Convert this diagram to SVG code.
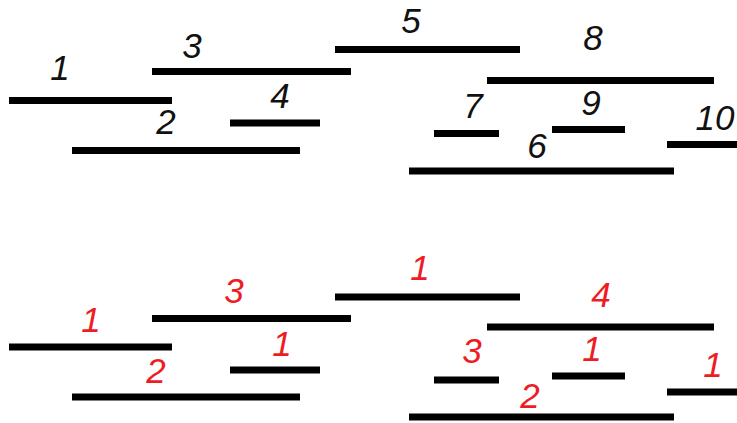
<svg xmlns="http://www.w3.org/2000/svg" width="737" height="423" viewBox="0 0 737 423">
<style>
.bar{stroke:#000;stroke-width:7;stroke-linecap:butt;fill:none}
.lb{font-family:"Liberation Sans",Arial,sans-serif;font-style:italic;font-size:35px;text-anchor:middle;fill:#111}
.rd{fill:#ee1c24}
</style>
<rect width="737" height="423" fill="#fff"/>
<g id="top">
<g id="t1"><line class="bar" x1="9" y1="100.5" x2="172" y2="100.5"/><text class="lb" x="60" y="80">1</text></g>
<g id="t2"><line class="bar" x1="72" y1="150.5" x2="300" y2="150.5"/><text class="lb" x="166" y="134">2</text></g>
<g id="t3"><line class="bar" x1="152" y1="71.5" x2="351" y2="71.5"/><text class="lb" x="192" y="58">3</text></g>
<g id="t4"><line class="bar" x1="230" y1="123" x2="320" y2="123"/><text class="lb" x="280" y="108">4</text></g>
<g id="t5"><line class="bar" x1="335" y1="49.5" x2="520" y2="49.5"/><text class="lb" x="411" y="33">5</text></g>
<g id="t6"><line class="bar" x1="409" y1="171" x2="674" y2="171"/><text class="lb" x="537" y="158">6</text></g>
<g id="t7"><line class="bar" x1="434" y1="133.5" x2="499" y2="133.5"/><text class="lb" x="473" y="118">7</text></g>
<g id="t8"><line class="bar" x1="487" y1="80.5" x2="714" y2="80.5"/><text class="lb" x="593" y="50">8</text></g>
<g id="t9"><line class="bar" x1="552" y1="129.5" x2="625" y2="129.5"/><text class="lb" x="591" y="115">9</text></g>
<g id="t10"><line class="bar" x1="667" y1="144.5" x2="737" y2="144.5"/><text class="lb" x="715" y="130">10</text></g>
</g>
<g id="bottom">
<g id="b1"><line class="bar" x1="9" y1="347" x2="172" y2="347"/><text class="lb rd" x="91" y="332">1</text></g>
<g id="b2"><line class="bar" x1="72" y1="397" x2="300" y2="397"/><text class="lb rd" x="156" y="383">2</text></g>
<g id="b3"><line class="bar" x1="152" y1="318.5" x2="351" y2="318.5"/><text class="lb rd" x="234" y="303">3</text></g>
<g id="b4"><line class="bar" x1="230" y1="370" x2="320" y2="370"/><text class="lb rd" x="282" y="356">1</text></g>
<g id="b5"><line class="bar" x1="335" y1="297" x2="520" y2="297"/><text class="lb rd" x="420" y="280">1</text></g>
<g id="b6"><line class="bar" x1="409" y1="417" x2="674" y2="417"/><text class="lb rd" x="530" y="408">2</text></g>
<g id="b7"><line class="bar" x1="434" y1="380" x2="499" y2="380"/><text class="lb rd" x="472" y="363">3</text></g>
<g id="b8"><line class="bar" x1="487" y1="327" x2="714" y2="327"/><text class="lb rd" x="601" y="307">4</text></g>
<g id="b9"><line class="bar" x1="552" y1="376" x2="625" y2="376"/><text class="lb rd" x="592" y="361">1</text></g>
<g id="b10"><line class="bar" x1="667" y1="392" x2="737" y2="392"/><text class="lb rd" x="713" y="377">1</text></g>
</g>
</svg>
